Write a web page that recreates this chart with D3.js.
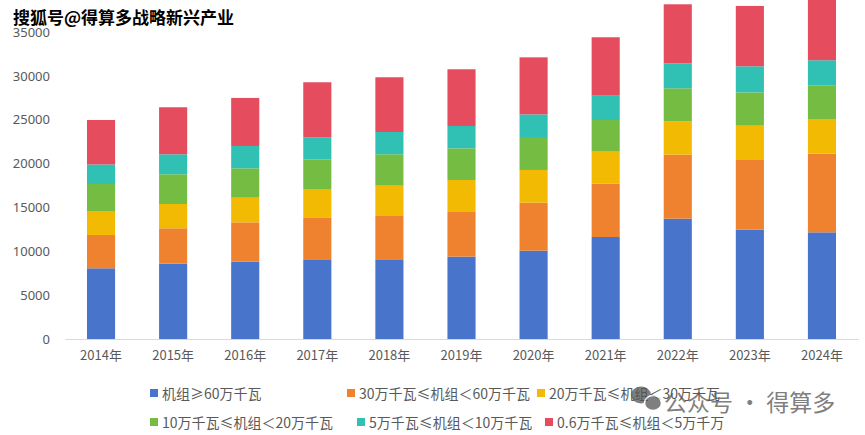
<!DOCTYPE html>
<html>
<head>
<meta charset="utf-8">
<script src="https://cdn.jsdelivr.net/npm/d3@7"></script>
<style>
  body { margin: 0; background: #fff; }
  svg { display: block; font-family: "Noto Sans CJK SC", "Noto Sans", sans-serif; }
</style>
</head>
<body>
<div id="chart-area"></div>
<script>
// years on the x axis
var years = ["2014年", "2015年", "2016年", "2017年", "2018年", "2019年",
             "2020年", "2021年", "2022年", "2023年", "2024年"];

var seriesNames = ["机组≥60万千瓦", "30万千瓦≤机组＜60万千瓦", "20万千瓦≤机组＜30万千瓦",
                   "10万千瓦≤机组＜20万千瓦", "5万千瓦≤机组＜10万千瓦", "0.6万千瓦≤机组＜5万千万"];

// values (万千瓦)
var s60up   = [8060, 8590, 8820, 9085, 9085, 9390, 10070, 11630, 13720, 12460, 12160];
var s30to60 = [3800, 4030, 4480, 4715, 4935, 5090, 5470, 6080, 7300, 7950, 8970];
var s20to30 = [2730, 2770, 2810, 3300, 3460, 3650, 3730, 3650, 3800, 3910, 3950];
var s10to20 = [3080, 3390, 3350, 3380, 3580, 3610, 3650, 3610, 3760, 3800, 3800];
var s5to10  = [2230, 2280, 2540, 2520, 2540, 2545, 2690, 2770, 2850, 2970, 2900];
var s06to5  = [5070, 5360, 5480, 6270, 6240, 6465, 6500, 6660, 6730, 6880, 7200];

var yTicks = [0, 5000, 10000, 15000, 20000, 25000, 30000, 35000];

var colors = ["#4874CB", "#EE822F", "#F2BA02", "#75BD42", "#30C0B4", "#E54C5E"];

var W = 865, H = 435;
var keys = ["a", "b", "c", "d", "e", "f"];
var allSeries = [s60up, s30to60, s20to30, s10to20, s5to10, s06to5];

var data = years.map(function(y, i) {
    var row = { year: y };
    keys.forEach(function(k, j) { row[k] = allSeries[j][i]; });
    return row;
});

var svg = d3.select("#chart-area")
    .append("svg")
        .attr("width", W)
        .attr("height", H);

// X Scale
var x = d3.scaleBand()
    .domain(years)
    .range([65, 858])
    .paddingInner(0.61)
    .paddingOuter(0.305);

// Y Scale (35000 sits near the top edge, tallest bars run off the picture)
var y = d3.scaleLinear()
    .domain([0, 35000])
    .range([339, 32]);

var stack = d3.stack().keys(keys)(data);

// Bars
svg.append("g").selectAll("g")
    .data(stack)
    .enter().append("g")
        .attr("fill", function(d, i) { return colors[i]; })
    .selectAll("rect")
    .data(function(d) { return d; })
    .enter().append("rect")
        .attr("x", function(d) { return x(d.data.year); })
        .attr("width", x.bandwidth())
        .attr("y", function(d) { return y(d[1]); })
        .attr("height", function(d) { return y(d[0]) - y(d[1]); });

// X Axis
var xAxisGroup = svg.append("g")
    .attr("transform", "translate(0,339)")
    .call(d3.axisBottom(x).tickSize(0).tickPadding(12).tickSizeOuter(0));
xAxisGroup.select(".domain").attr("stroke", "#d9d9d9");
xAxisGroup.selectAll("text")
    .attr("fill", "#595959")
    .attr("font-size", "13px")
    .attr("font-family", "\"Noto Sans CJK SC\", sans-serif");

// Y Axis (labels only)
var yAxisGroup = svg.append("g")
    .attr("transform", "translate(50,0)")
    .call(d3.axisLeft(y).tickValues(yTicks).tickFormat(d3.format("d")).tickSize(0).tickPadding(0));
yAxisGroup.select(".domain").remove();
yAxisGroup.selectAll("text")
    .attr("fill", "#595959")
    .attr("font-size", "13px")
    .attr("font-family", "\"Noto Sans\", sans-serif");

// Legend
var legendPos = [[150, 394], [347, 394], [537, 394], [150, 423], [357, 423], [545, 423]];
var legend = svg.append("g").selectAll("g")
    .data(seriesNames)
    .enter().append("g")
        .attr("transform", function(d, i) { return "translate(" + legendPos[i][0] + "," + legendPos[i][1] + ")"; });
legend.append("rect")
    .attr("x", 0).attr("y", -5)
    .attr("width", 8).attr("height", 8)
    .attr("fill", function(d, i) { return colors[i]; });
legend.append("text")
    .attr("x", 12)
    .attr("y", 0)
    .attr("dy", "0.35em")
    .attr("font-size", "14px")
    .attr("fill", "#595959")
    .text(function(d) { return d; });

// watermark top-left
svg.append("text")
    .attr("x", 13).attr("y", 24)
    .attr("font-size", "17px")
    .attr("font-weight", "bold")
    .attr("fill", "#000")
    .attr("stroke", "#fff")
    .attr("stroke-width", 3)
    .attr("paint-order", "stroke")
    .text("搜狐号@得算多战略新兴产业");

// watermark bottom-right
var wm = svg.append("g").attr("opacity", 0.75);
wm.append("ellipse").attr("cx", 641).attr("cy", 395).attr("rx", 10).attr("ry", 8.5).attr("fill", "#555");
wm.append("ellipse").attr("cx", 653).attr("cy", 403).attr("rx", 8.5).attr("ry", 7.5).attr("fill", "#555")
    .attr("stroke", "#fff").attr("stroke-width", 1.5);
wm.append("text")
    .attr("x", 664).attr("y", 411)
    .attr("font-size", "23px")
    .attr("fill", "#555")
    .text("公众号 · 得算多");
</script>
</body>
</html>
